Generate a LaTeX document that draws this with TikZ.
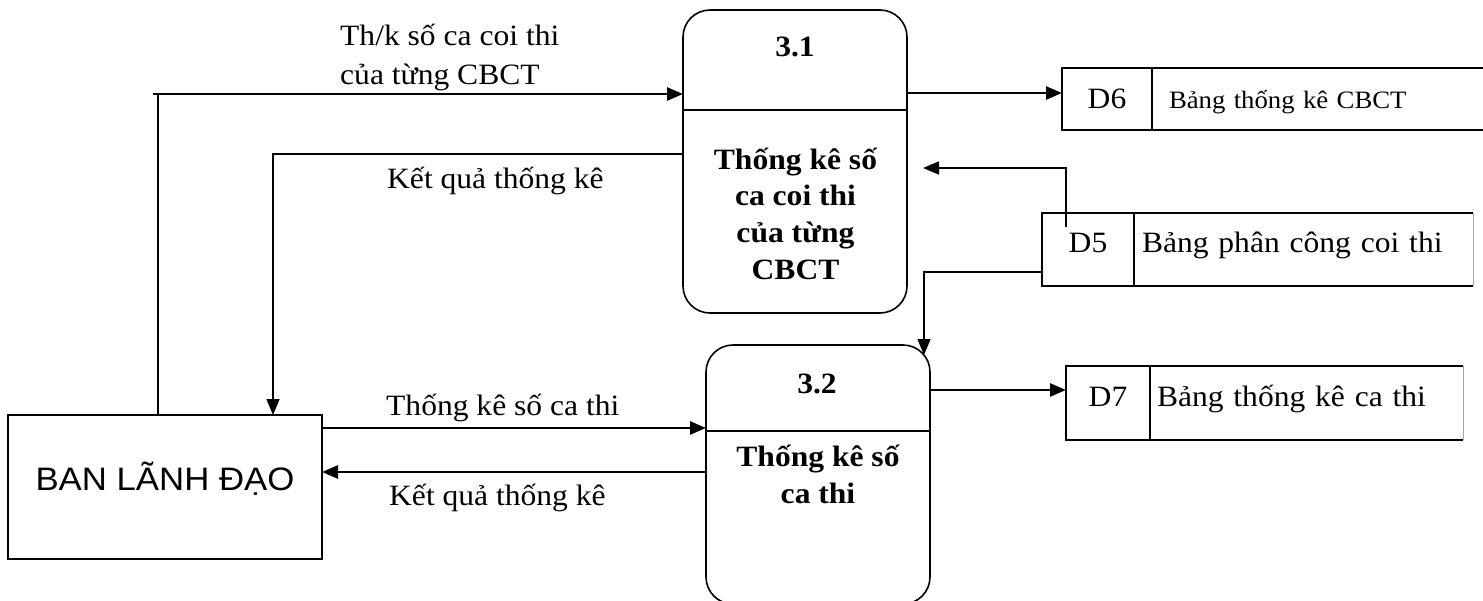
\documentclass[tikz,border=0pt]{standalone}
\usepackage{fontspec}
\setmainfont{Liberation Serif}[FakeStretch=1.07]
\newfontfamily\entityfont{Liberation Sans}[FakeStretch=1.07]
\usepackage{tikz}
\usetikzlibrary{positioning}
\usetikzlibrary{arrows.meta}
\tikzset{>=latex}
\tikzstyle{process}=[draw, rectangle, rounded corners=27pt, line width=1.6pt, minimum width=224pt, inner sep=0pt, outer sep=0pt]
\tikzstyle{proctext}=[align=center, font=\bfseries\fontsize{29.5}{36.7}\selectfont, inner sep=0pt]
\tikzstyle{entity}=[draw, rectangle, line width=1.5pt, minimum width=314pt, minimum height=144pt, outer sep=0pt, font=\entityfont\fontsize{32.5}{38}\selectfont]
\tikzstyle{storecell}=[draw, rectangle, line width=1.5pt, text height=21pt, inner sep=0pt, outer sep=0pt]
\tikzstyle{storename}=[rectangle, align=left, text height=21pt, inner ysep=0pt, outer sep=0pt]
\tikzstyle{storeline}=[line width=2pt]
\tikzstyle{storeend}=[line width=0.8pt, black!35]
\tikzstyle{connect}=[line width=1.6pt]
\tikzstyle{connect bent}=[connect, -{Triangle[length=16pt,width=13pt]}]
\tikzstyle{connect arrow}=[-{Triangle[length=16pt,width=13pt]}, line width=2.8pt]
\tikzstyle{flowlabel}=[inner sep=0pt, anchor=base west]

\begin{document}
\begin{tikzpicture}[
    x=1pt, y=-1pt,
    font=\fontsize{29.5}{39}\selectfont]
\useasboundingbox (0,0) rectangle (1483,600);

% external entity
\node[entity, text height=29pt, text depth=22pt] (ban) at (165,487) {BAN LÃNH ĐẠO};

% processes
\node[process, minimum height=303pt] (p31) at (795,161.5) {};
\node[proctext] (p31num) at (795,47) {3.1};
\node[proctext] (p31name) at (795.5,213.5) {Thống kê số\\ca coi thi\\của từng\\CBCT};
\draw[line width=1.6pt] ([yshift=-100pt]p31.north west) -- ([yshift=-100pt]p31.north east);

\node[process, minimum height=259pt] (p32) at (818,474.5) {};
\node[proctext] (p32num) at (817,384) {3.2};
\node[proctext] (p32name) at (818,474.5) {Thống kê số\\ca thi};
\draw[line width=1.6pt] ([yshift=-86pt]p32.north west) -- ([yshift=-86pt]p32.north east);

% data stores
\node[storecell, minimum width=90pt, minimum height=62pt, text depth=2.4pt] (d6id) at (1107,99) {D6};
\node[storename, right=0pt of d6id, minimum height=62pt, text width=309pt, inner xsep=17pt, text depth=2.4pt, font=\fontsize{25}{30}\selectfont] (d6name) {Bảng thống kê CBCT};
\draw[storeline] (d6name.north west) -- (d6name.north east) (d6name.south west) -- (d6name.south east);

\node[storecell, minimum width=92pt, minimum height=73pt, text depth=14.5pt] (d5id) at (1088,249.5) {D5};
\node[storename, right=0pt of d5id, minimum height=73pt, text width=323pt, inner xsep=8pt, text depth=14.5pt] (d5name) {Bảng phân công coi thi};
\draw[storeline] (d5name.north west) -- (d5name.north east) (d5name.south west) -- (d5name.south east);
\draw[storeend] (d5name.north east) -- (d5name.south east);

\node[storecell, minimum width=84pt, minimum height=74pt, text depth=13.6pt] (d7id) at (1108,403) {D7};
\node[storename, right=0pt of d7id, minimum height=74pt, text width=299pt, inner xsep=7pt, text depth=13.6pt] (d7name) {Bảng thống kê ca thi};
\draw[storeline] (d7name.north west) -- (d7name.north east) (d7name.south west) -- (d7name.south east);
\draw[storeend] (d7name.north east) -- (d7name.south east);

% flows
\coordinate (c1) at (158,94);
\draw[connect] (ban.north -| c1) -- (c1);
\draw[connect arrow] ([xshift=-5pt]c1) -- (p31.west |- c1);
\node[align=left, inner sep=0pt, anchor=west] (lbl1) at (340,57) {Th/k số ca coi thi\\của từng CBCT};

\coordinate (c2) at (273,154);
\draw[connect bent] (p31.west |- c2) -| (ban.north -| c2);
\node[flowlabel] (lbl2) at (387,188) {Kết quả thống kê};

\coordinate (f3) at (0,428);
\draw[connect arrow] (ban.east |- f3) -- (p32.west |- f3);
\node[flowlabel] (lbl3) at (386,415) {Thống kê số ca thi};

\coordinate (f4) at (0,472);
\draw[connect arrow] (p32.west |- f4) -- (ban.east |- f4);
\node[flowlabel] (lbl4) at (389,505) {Kết quả thống kê};

\coordinate (f5) at (0,93);
\draw[connect arrow] (p31.east |- f5) -- (d6id.west |- f5);

\coordinate (c6) at (1066,168);
\draw[connect bent, shorten <=-14pt, shorten >=16pt] (c6 |- d5id.north) -- (c6) -- (c6 -| p31.east);

\coordinate (c7) at (924,272);
\draw[connect bent, shorten >=-10pt] (d5id.west |- c7) -- (c7) -- (c7 |- p32.north);

\coordinate (f8) at (0,390);
\draw[connect arrow] (p32.east |- f8) -- (d7id.west |- f8);

\end{tikzpicture}
\end{document}
